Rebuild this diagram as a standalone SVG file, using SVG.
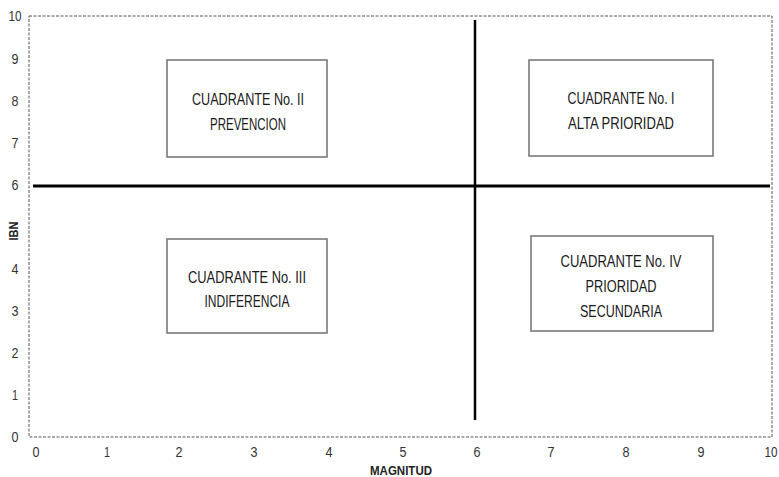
<svg xmlns="http://www.w3.org/2000/svg" width="779" height="477" viewBox="0 0 779 477">
  <style>
    .tick { font-family: "Liberation Sans", Arial, sans-serif; font-size: 14px; fill: #333; text-anchor: middle; }
    .axis-title { font-family: "Liberation Sans", Arial, sans-serif; font-size: 13px; font-weight: bold; fill: #222; text-anchor: middle; }
    .box { fill: #fff; stroke: #7a7a7a; stroke-width: 1.6; }
    .label { font-family: "Liberation Sans", Arial, sans-serif; font-size: 17px; fill: #1a1a1a; text-anchor: middle; }
    .frame { fill: none; stroke: #555; stroke-width: 1; stroke-dasharray: 3 1.5; }
    .divider { stroke: #000; fill: none; }
  </style>
  <rect width="779" height="477" fill="#fff"/>

  <!-- plot frame -->
  <rect class="frame" x="29" y="16" width="743" height="421"/>

  <!-- y axis ticks -->
  <g id="y-axis">
    <text class="tick" x="15" y="21" textLength="13" lengthAdjust="spacingAndGlyphs">10</text>
    <text class="tick" x="15" y="64" textLength="7" lengthAdjust="spacingAndGlyphs">9</text>
    <text class="tick" x="15" y="106" textLength="7" lengthAdjust="spacingAndGlyphs">8</text>
    <text class="tick" x="15" y="148" textLength="7" lengthAdjust="spacingAndGlyphs">7</text>
    <text class="tick" x="15" y="190" textLength="7" lengthAdjust="spacingAndGlyphs">6</text>
    <text class="tick" x="15" y="274" textLength="7" lengthAdjust="spacingAndGlyphs">4</text>
    <text class="tick" x="15" y="316" textLength="7" lengthAdjust="spacingAndGlyphs">3</text>
    <text class="tick" x="15" y="358" textLength="7" lengthAdjust="spacingAndGlyphs">2</text>
    <text class="tick" x="15" y="400" textLength="6" lengthAdjust="spacingAndGlyphs">1</text>
    <text class="tick" x="15" y="442" textLength="7" lengthAdjust="spacingAndGlyphs">0</text>
    <text class="axis-title" transform="translate(18 231) rotate(-90)" textLength="19" lengthAdjust="spacingAndGlyphs">IBN</text>
  </g>

  <!-- x axis ticks -->
  <g id="x-axis">
    <text class="tick" x="36" y="457" textLength="7" lengthAdjust="spacingAndGlyphs">0</text>
    <text class="tick" x="107" y="457" textLength="6" lengthAdjust="spacingAndGlyphs">1</text>
    <text class="tick" x="179" y="457" textLength="7" lengthAdjust="spacingAndGlyphs">2</text>
    <text class="tick" x="254" y="457" textLength="7" lengthAdjust="spacingAndGlyphs">3</text>
    <text class="tick" x="329" y="457" textLength="7" lengthAdjust="spacingAndGlyphs">4</text>
    <text class="tick" x="403" y="457" textLength="7" lengthAdjust="spacingAndGlyphs">5</text>
    <text class="tick" x="477" y="457" textLength="7" lengthAdjust="spacingAndGlyphs">6</text>
    <text class="tick" x="551" y="457" textLength="7" lengthAdjust="spacingAndGlyphs">7</text>
    <text class="tick" x="626" y="457" textLength="7" lengthAdjust="spacingAndGlyphs">8</text>
    <text class="tick" x="701" y="457" textLength="7" lengthAdjust="spacingAndGlyphs">9</text>
    <text class="tick" x="771" y="457" textLength="13" lengthAdjust="spacingAndGlyphs">10</text>
    <text class="axis-title" x="401" y="475" textLength="62" lengthAdjust="spacingAndGlyphs">MAGNITUD</text>
  </g>

  <!-- quadrant dividers -->
  <g id="connectors">
    <line class="divider" x1="33" y1="186" x2="770" y2="186" stroke-width="3"/>
    <line class="divider" x1="475" y1="20" x2="475" y2="420" stroke-width="2.5"/>
  </g>

  <g id="q2">
    <rect class="box" x="167" y="60" width="160" height="97"/>
    <text class="label" x="248" y="105" textLength="112" lengthAdjust="spacingAndGlyphs">CUADRANTE No. II</text>
    <text class="label" x="248" y="130" textLength="76" lengthAdjust="spacingAndGlyphs">PREVENCION</text>
  </g>

  <g id="q1">
    <rect class="box" x="529" y="60" width="184" height="96"/>
    <text class="label" x="621" y="104" textLength="107" lengthAdjust="spacingAndGlyphs">CUADRANTE No. I</text>
    <text class="label" x="621" y="129" textLength="106" lengthAdjust="spacingAndGlyphs">ALTA PRIORIDAD</text>
  </g>

  <g id="q3">
    <rect class="box" x="167" y="239" width="160" height="94"/>
    <text class="label" x="247" y="283" textLength="118" lengthAdjust="spacingAndGlyphs">CUADRANTE No. III</text>
    <text class="label" x="247" y="307" textLength="85" lengthAdjust="spacingAndGlyphs">INDIFERENCIA</text>
  </g>

  <g id="q4">
    <rect class="box" x="531" y="236" width="182" height="95"/>
    <text class="label" x="621" y="267" textLength="121" lengthAdjust="spacingAndGlyphs">CUADRANTE No. IV</text>
    <text class="label" x="621" y="292" textLength="71" lengthAdjust="spacingAndGlyphs">PRIORIDAD</text>
    <text class="label" x="621" y="317" textLength="82" lengthAdjust="spacingAndGlyphs">SECUNDARIA</text>
  </g>
</svg>
